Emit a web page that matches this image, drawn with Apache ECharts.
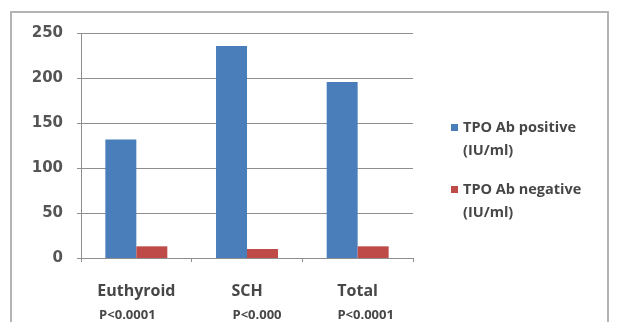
<!DOCTYPE html>
<html>
<head>
<meta charset="utf-8">
<script src="https://cdn.jsdelivr.net/npm/echarts@6/dist/echarts.min.js"></script>
<style>
  html, body { margin: 0; padding: 0; background: #ffffff; }
  #chart { width: 618px; height: 322px; }
</style>
</head>
<body>
<div id="chart"></div>
<script>
// Thyroid groups and their significance notes
const categories = ['Euthyroid', 'SCH', 'Total'];
const pValues = ['P<0.0001', 'P<0.000', 'P<0.0001'];

// Mean TPO antibody titres (IU/ml)
const seriesNames = ['TPO Ab positive (IU/ml)', 'TPO Ab negative (IU/ml)'];
const positiveValues = [132, 236, 196];
const negativeValues = [13, 10, 13];

// Value axis ticks
const yTicks = [0, 50, 100, 150, 200, 250];

const font = '"Open Sans", "DejaVu Sans", sans-serif';
const textColor = '#474747';
const lineColor = '#8e8e8e';

// Per-category shift of the p-value line under each label
const pPad = [[0, 18, 0, 0], [0, 0, 0, 20], [0, 0, 0, 16]];
const rich = {
  cat: { fontFamily: font, fontSize: 16, fontWeight: 'bold', color: textColor, lineHeight: 22 }
};
pPad.forEach(function (p, i) {
  rich['p' + i] = { fontFamily: font, fontSize: 13, fontWeight: 'bold', color: textColor, lineHeight: 27, padding: p };
});

// Legend entry: a blank first line keeps the swatch level with the name line
const legendRich = {
  e: { fontSize: 14.5, lineHeight: 23 },
  t: { fontFamily: font, fontSize: 14.5, fontWeight: 'bold', color: textColor, lineHeight: 23 }
};

const chart = echarts.init(document.getElementById('chart'), null, { renderer: 'canvas' });

chart.setOption({
  animation: false,
  backgroundColor: '#ffffff',
  graphic: [{
    type: 'rect',
    shape: { x: 11, y: 12, width: 597, height: 330 },
    style: { fill: 'none', stroke: '#b4b4b4', lineWidth: 2 },
    silent: true
  }],
  grid: { left: 81, top: 33.5, right: 205, bottom: 62, containLabel: false },
  legend: {
    orient: 'vertical',
    left: 446,
    top: 92,
    itemWidth: 7,
    itemHeight: 7,
    itemGap: 1,
    icon: 'rect',
    formatter: function (name) {
      const parts = name.split(' (');
      return '{e| }\n{t|' + parts[0] + '}\n{t|(' + parts[1] + '}';
    },
    textStyle: { rich: legendRich },
    data: seriesNames
  },
  xAxis: {
    type: 'category',
    data: categories,
    axisLine: { lineStyle: { color: lineColor, width: 1 } },
    axisTick: { show: true, length: 4, lineStyle: { color: lineColor } },
    axisLabel: {
      margin: 22,
      interval: 0,
      formatter: function (value, idx) {
        return '{cat|' + value + '}\n{p' + idx + '|' + pValues[idx] + '}';
      },
      rich: rich
    }
  },
  yAxis: {
    type: 'value',
    min: yTicks[0],
    max: yTicks[yTicks.length - 1],
    interval: 50,
    axisLine: { show: true, lineStyle: { color: lineColor, width: 1 } },
    axisTick: { show: true, length: 4, lineStyle: { color: lineColor } },
    splitLine: { lineStyle: { color: lineColor, width: 1 } },
    axisLabel: { margin: 18, fontFamily: '"DejaVu Sans", sans-serif', fontSize: 15, fontWeight: 'bold', color: '#555555' }
  },
  series: [
    {
      name: seriesNames[0],
      type: 'bar',
      data: positiveValues,
      itemStyle: { color: '#4a7ebb' },
      barGap: '0%',
      barCategoryGap: '44%'
    },
    {
      name: seriesNames[1],
      type: 'bar',
      data: negativeValues,
      itemStyle: { color: '#be4b48' }
    }
  ]
});
</script>
</body>
</html>
